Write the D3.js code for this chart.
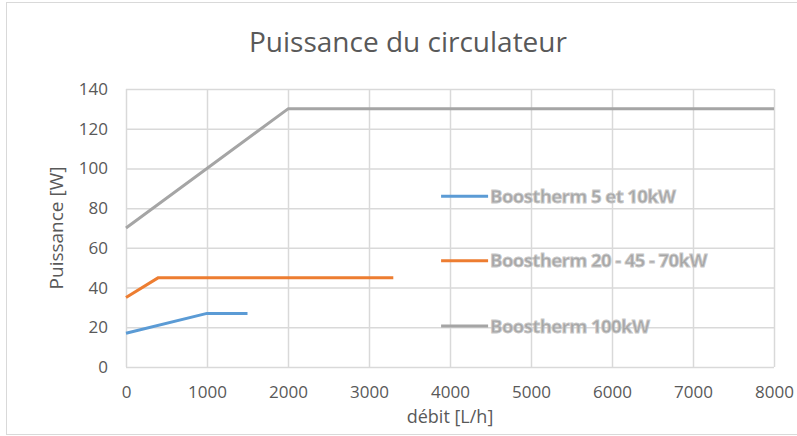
<!DOCTYPE html>
<html>
<head>
<meta charset="utf-8">
<script src="https://cdn.jsdelivr.net/npm/d3@7"></script>
<style>
  body { margin: 0; background: #fff; }
  svg { display: block; font-family: "Open Sans", sans-serif; }
</style>
</head>
<body>
<svg id="chart" width="797" height="436"></svg>
<script>
// data
var xTicks = [0, 1000, 2000, 3000, 4000, 5000, 6000, 7000, 8000];
var yTicks = [0, 20, 40, 60, 80, 100, 120, 140];

var seriesNames = ["Boostherm 5 et 10kW", "Boostherm 20 - 45 - 70kW", "Boostherm 100kW"];
var seriesColors = ["#5b9bd5", "#ed7d31", "#a5a5a5"];

var debit5 = [0, 1000, 1500];
var puiss5 = [17, 27, 27];
var debit20 = [0, 400, 3300];
var puiss20 = [35, 45, 45];
var debit100 = [0, 2000, 8000];
var puiss100 = [70, 130, 130];

var legendY = [86, 53.5, 20.6];   // legend rows, in data units of the y axis

var svg = d3.select("#chart");
var margin = { top: 89, right: 23, bottom: 69, left: 126 };
var width = 797 - margin.left - margin.right;
var height = 436 - margin.top - margin.bottom;

// outer frame
svg.append("rect")
   .attr("x", 6.5).attr("y", 2.5)
   .attr("width", 797).attr("height", 432)
   .attr("fill", "none")
   .attr("stroke", "#d9d9d9")
   .attr("stroke-width", 1);

var xScale = d3.scaleLinear().domain([0, 8000]).range([0, width]);
var yScale = d3.scaleLinear().domain([0, 140]).range([height, 0]);

var g = svg.append("g").attr("transform", `translate(${margin.left}, ${margin.top})`);

// grid
g.append("g")
 .call(d3.axisLeft(yScale).tickValues(yTicks).tickSize(-width).tickFormat(""))
 .call(a => a.select(".domain").remove())
 .selectAll("line").attr("stroke", "#d9d9d9").attr("stroke-width", 1.5);

g.append("g")
 .attr("transform", `translate(0, ${height})`)
 .call(d3.axisBottom(xScale).tickValues(xTicks).tickSize(height).tickFormat(""))
 .call(a => a.select(".domain").remove())
 .selectAll("line").attr("transform", `translate(0, ${-height})`)
 .attr("stroke", "#d9d9d9").attr("stroke-width", 1.5);

// tick labels
var yAxis = g.append("g")
 .call(d3.axisLeft(yScale).tickValues(yTicks).tickSize(0).tickPadding(18));
yAxis.select(".domain").remove();
yAxis.selectAll("text").attr("fill", "#595959").style("font-size", "17px")
     .style("font-family", "Open Sans");

var xAxis = g.append("g")
 .attr("transform", `translate(0, ${height})`)
 .call(d3.axisBottom(xScale).tickValues(xTicks).tickSize(0).tickPadding(19)
         .tickFormat(d3.format("d")));
xAxis.select(".domain").remove();
xAxis.selectAll("text").attr("fill", "#595959").style("font-size", "17px")
     .style("font-family", "Open Sans");

// lines
var series = [
    { x: debit5, y: puiss5 },
    { x: debit20, y: puiss20 },
    { x: debit100, y: puiss100 }
];

var line = d3.line().x(d => xScale(d[0])).y(d => yScale(d[1]));

series.forEach(function(s, i){
    g.append("path")
     .datum(s.x.map((v, j) => [v, s.y[j]]))
     .attr("d", line)
     .attr("fill", "none")
     .attr("stroke", seriesColors[i])
     .attr("stroke-width", 3)
     .attr("stroke-linejoin", "round");
});

// legend (inside the plot)
var legend = g.append("g").attr("transform", `translate(${xScale(3890)}, 0)`);
seriesNames.forEach(function(name, i){
    var yy = yScale(legendY[i]);
    legend.append("line")
          .attr("x1", 0).attr("x2", 47)
          .attr("y1", yy).attr("y2", yy)
          .attr("stroke", seriesColors[i])
          .attr("stroke-width", 3);
    legend.append("text")
          .attr("x", 49).attr("y", yy)
          .attr("dy", "0.35em")
          .attr("fill", "#a6a6a6")
          .attr("stroke", "#c8c8c8")
          .attr("stroke-width", 0.8)
          .style("font-size", "18.5px")
          .style("font-weight", "bold")
          .style("letter-spacing", "-0.6px")
          .text(name);
});

// titles
svg.append("text")
   .attr("x", 408).attr("y", 52)
   .attr("text-anchor", "middle")
   .attr("fill", "#595959")
   .style("font-size", "28px")
   .text("Puissance du circulateur");

svg.append("text")
   .attr("x", margin.left + width / 2).attr("y", 423)
   .attr("text-anchor", "middle")
   .attr("fill", "#595959")
   .style("font-size", "18px")
   .text("débit [L/h]");

svg.append("text")
   .attr("transform", `translate(63, ${margin.top + height / 2}) rotate(-90)`)
   .attr("text-anchor", "middle")
   .attr("fill", "#595959")
   .style("font-size", "19px")
   .text("Puissance [W]");
</script>
</body>
</html>
